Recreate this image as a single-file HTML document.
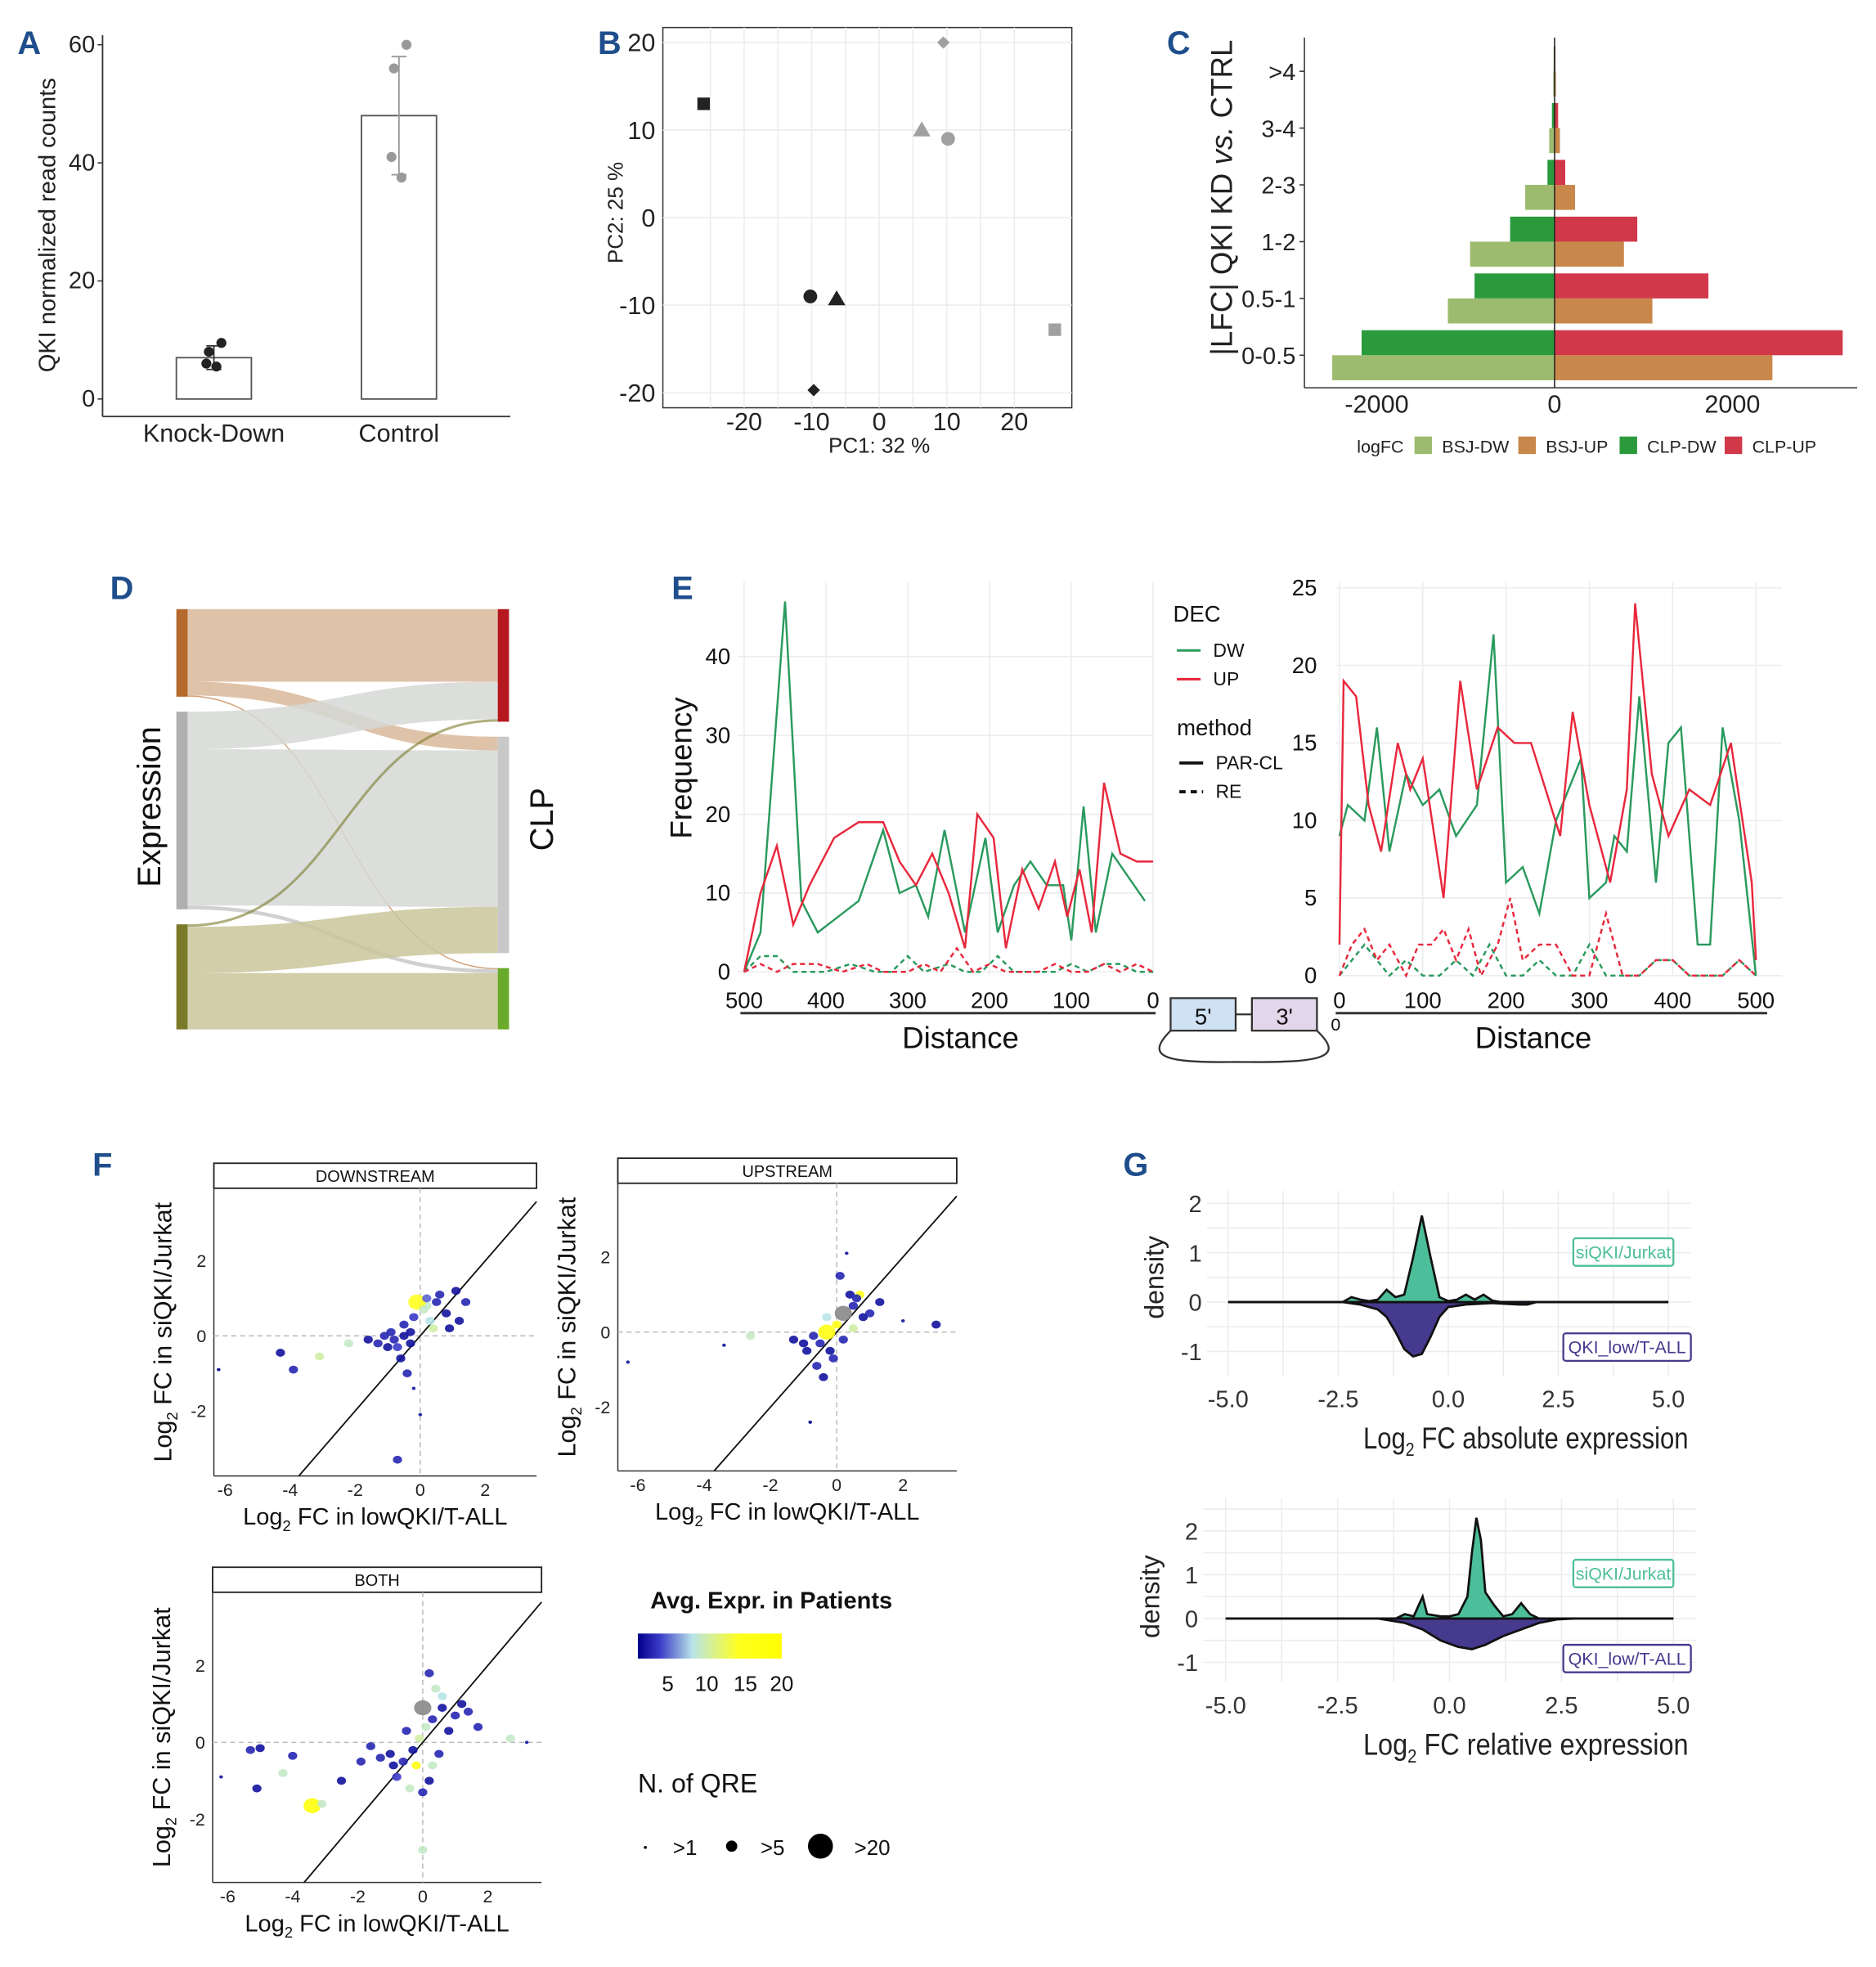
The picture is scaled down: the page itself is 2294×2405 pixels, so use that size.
<!DOCTYPE html>
<html><head><meta charset="utf-8">
<style>
html,body{margin:0;padding:0;background:#fff;}
svg{display:block;font-family:"Liberation Sans",sans-serif;}
.tk{font-size:18px;fill:#222;}
.pl{font-size:26px;font-weight:bold;fill:#1f4e8c;}
.grid{stroke:#ececec;stroke-width:1;}
</style></head>
<body>
<svg id="fig" width="2294" height="2405" viewBox="0 0 1500 1572.6" xmlns="http://www.w3.org/2000/svg">
<text class="pl" x="14" y="43">A</text>
<text class="pl" x="478" y="43">B</text>
<text class="pl" x="933" y="43">C</text>
<text class="pl" x="88" y="479">D</text>
<text class="pl" x="537" y="479">E</text>
<text class="pl" x="74" y="940">F</text>
<text class="pl" x="898" y="940">G</text>

<g id="pA">
<line x1="82" y1="28" x2="82" y2="333" stroke="#333" stroke-width="1.2"/>
<line x1="82" y1="333" x2="408" y2="333" stroke="#333" stroke-width="1.2"/>
<text x="44" y="180" transform="rotate(-90 44 180)" text-anchor="middle" font-size="19" fill="#222">QKI normalized read counts</text>
<text x="171" y="353" text-anchor="middle" font-size="20" fill="#222">Knock-Down</text>
<text x="319" y="353" text-anchor="middle" font-size="20" fill="#222">Control</text>
</g>
<g id="pB">
<rect x="530" y="22" width="327" height="304" fill="#fff" stroke="#333" stroke-width="1"/>
<text x="703" y="362" text-anchor="middle" font-size="17" fill="#222">PC1: 32 %</text>
<text x="498" y="170" transform="rotate(-90 498 170)" text-anchor="middle" font-size="17" fill="#222">PC2: 25 %</text>
</g>
<g id="pC">
<line x1="1043" y1="30" x2="1043" y2="310" stroke="#333"/>
<line x1="1043" y1="310" x2="1485" y2="310" stroke="#333"/>
<text x="985" y="158" transform="rotate(-90 985 158)" text-anchor="middle" font-size="24" fill="#222">|LFC| QKI KD <tspan font-style="italic">vs.</tspan> CTRL</text>
<g font-size="14" fill="#222">
<text x="1085" y="362">logFC</text>
<rect x="1131" y="349" width="14" height="14" fill="#9cbb6e"/><text x="1153" y="362">BSJ-DW</text>
<rect x="1214" y="349" width="14" height="14" fill="#c8874b"/><text x="1236" y="362">BSJ-UP</text>
<rect x="1295" y="349" width="14" height="14" fill="#2b9a3c"/><text x="1317" y="362">CLP-DW</text>
<rect x="1379" y="349" width="14" height="14" fill="#d1394a"/><text x="1401" y="362">CLP-UP</text>
</g>
</g>
<g id="pD">
<text x="128" y="645" transform="rotate(-90 128 645)" text-anchor="middle" font-size="26" fill="#111">Expression</text>
<text x="442" y="655" transform="rotate(-90 442 655)" text-anchor="middle" font-size="26" fill="#111">CLP</text>
</g>
<g id="pE">
<text x="553" y="614" transform="rotate(-90 553 614)" text-anchor="middle" font-size="24" fill="#111">Frequency</text>
<line x1="592" y1="810" x2="924" y2="810" stroke="#333" stroke-width="2"/>
<line x1="1068" y1="810" x2="1413" y2="810" stroke="#333" stroke-width="2"/>
<text x="768" y="838" text-anchor="middle" font-size="24" fill="#111">Distance</text>
<text x="1226" y="838" text-anchor="middle" font-size="24" fill="#111">Distance</text>
<rect x="936" y="798" width="52" height="26" fill="#cfe2f3" stroke="#333" stroke-width="1.5"/>
<text x="962" y="819" text-anchor="middle" font-size="18" fill="#111">5'</text>
<rect x="1001" y="798" width="52" height="26" fill="#e2d6ea" stroke="#333" stroke-width="1.5"/>
<text x="1027" y="819" text-anchor="middle" font-size="18" fill="#111">3'</text>
<line x1="988" y1="811" x2="1001" y2="811" stroke="#333" stroke-width="1.5"/>
<path d="M936 824 C915 845 930 850 990 849 C1060 850 1075 845 1053 824" fill="none" stroke="#333" stroke-width="1.5"/>
<g fill="#111">
<text x="938" y="497" font-size="18">DEC</text>
<line x1="941" y1="520" x2="960" y2="520" stroke="#2a9a5e" stroke-width="2"/><text x="970" y="525" font-size="15">DW</text>
<line x1="941" y1="543" x2="960" y2="543" stroke="#e8283c" stroke-width="2"/><text x="970" y="548" font-size="15">UP</text>
<text x="941" y="588" font-size="18">method</text>
<line x1="943" y1="610" x2="962" y2="610" stroke="#111" stroke-width="2.5"/><text x="972" y="615" font-size="15">PAR-CL</text>
<line x1="943" y1="633" x2="962" y2="633" stroke="#111" stroke-width="2.5" stroke-dasharray="5 4"/><text x="972" y="638" font-size="15">RE</text>
</g>
</g>
<g id="pF">
<g>
<text x="520" y="1286" font-size="19" font-weight="bold" fill="#111">Avg. Expr. in Patients</text>
<defs><linearGradient id="cg" x1="0" x2="1" y1="0" y2="0">
<stop offset="0" stop-color="#00008b"/><stop offset="0.15" stop-color="#3a3ac8"/><stop offset="0.38" stop-color="#b8e4e8"/><stop offset="0.7" stop-color="#ffff20"/><stop offset="1" stop-color="#ffff00"/></linearGradient></defs>
<rect x="510" y="1306" width="115" height="20" fill="url(#cg)"/>
<g font-size="17" fill="#111" text-anchor="middle"><text x="534" y="1352">5</text><text x="565" y="1352">10</text><text x="596" y="1352">15</text><text x="625" y="1352">20</text></g>
<text x="510" y="1433" font-size="21" fill="#111">N. of QRE</text>
<circle cx="516" cy="1477" r="1.2" fill="#000"/><text x="538" y="1483" font-size="17" fill="#111">&gt;1</text>
<circle cx="585" cy="1476" r="4.5" fill="#000"/><text x="608" y="1483" font-size="17" fill="#111">&gt;5</text>
<circle cx="656" cy="1476" r="10" fill="#000"/><text x="683" y="1483" font-size="17" fill="#111">&gt;20</text>
</g>
</g>
<g id="pG"></g>
</svg>
<script>
const NS="http://www.w3.org/2000/svg";
function mk(tag,attrs,parent){const e=document.createElementNS(NS,tag);for(const k in attrs)e.setAttribute(k,attrs[k]);parent.appendChild(e);return e;}
function txt(s,attrs,parent){const e=mk('text',attrs,parent);e.textContent=s;return e;}

const aCats=["Knock-Down","Control"];
const aMeans=[7,48];
const aSd=[2,10];
const aPoints=[[9.5,8,5.5,6],[60,56,37.5,41]];
const aTicks=[0,20,40,60];
(function(){
 const g=document.getElementById('pA');
 const y=v=>319-v*4.72; const xc=[171,319];
 aTicks.forEach(t=>{const l=txt(String(t),{x:76,y:y(t)+6,'text-anchor':'end','font-size':19,fill:'#222'},g);
 
 
 mk('line',{x1:78,x2:82,y1:y(t),y2:y(t),stroke:'#333'},g);});
 aCats.forEach((c,i)=>{
  const b=mk('rect',{x:xc[i]-30,y:y(aMeans[i]),width:60,height:y(0)-y(aMeans[i]),fill:'#fff',stroke:'#555','stroke-width':1.2},g);
  
  
  mk('line',{x1:xc[i],x2:xc[i],y1:y(aMeans[i]+aSd[i]),y2:y(aMeans[i]-aSd[i]),stroke:i?'#999':'#333','stroke-width':1.2},g);
  [aMeans[i]+aSd[i],aMeans[i]-aSd[i]].forEach(v=>mk('line',{x1:xc[i]-6,x2:xc[i]+6,y1:y(v),y2:y(v),stroke:i?'#999':'#333','stroke-width':1.2},g));
  aPoints[i].forEach((v,j)=>{const p=mk('circle',{cx:xc[i]+[6,-4,2,-6][j],cy:y(v),r:4,fill:i?'#999':'#222'},g);
  
  });
 });
})();

const bX=[-26,9.5,6.3,10.2,-10.2,-6.3,-9.7,26];
const bY=[13,20,10,9,-9,-9.3,-19.7,-12.8];
const bShape=["square","diamond","triangle","circle","circle","triangle","diamond","square"];
const bGroup=["kd","ctrl","ctrl","ctrl","kd","kd","kd","ctrl"];
const bXT=[-20,-10,0,10,20];
const bYT=[-20,-10,0,10,20];
(function(){
 const g=document.getElementById('pB');
 const x=v=>703+v*5.4, y=v=>174-v*7;
 bXT.forEach(t=>{mk('line',{class:'grid',x1:x(t),x2:x(t),y1:22,y2:326},g);mk('line',{class:'grid',x1:x(t-5),x2:x(t-5),y1:22,y2:326,'stroke-width':0.5},g);
  const l=txt(String(t),{x:x(t),y:344,'text-anchor':'middle','font-size':20,fill:'#222'},g);
  
  });
 bYT.forEach(t=>{mk('line',{class:'grid',x1:530,x2:857,y1:y(t),y2:y(t)},g);
  const l=txt(String(t),{x:524,y:y(t)+7,'text-anchor':'end','font-size':20,fill:'#222'},g);
  
  });
 bX.forEach((v,i)=>{
  const cx=x(v),cy=y(bY[i]),c=bGroup[i]=='kd'?'#222':'#a0a0a0';let e;
  if(bShape[i]=='square')e=mk('rect',{x:cx-5,y:cy-5,width:10,height:10,fill:c},g);
  else if(bShape[i]=='diamond')e=mk('polygon',{points:`${cx},${cy-5} ${cx+5},${cy} ${cx},${cy+5} ${cx-5},${cy}`,fill:c},g);
  else if(bShape[i]=='triangle')e=mk('polygon',{points:`${cx},${cy-7} ${cx+7},${cy+5} ${cx-7},${cy+5}`,fill:c},g);
  else e=mk('circle',{cx:cx,cy:cy,r:5.5,fill:c},g);
  
  
 });
})();

const cCats=[">4","3-4","2-3","1-2","0.5-1","0-0.5"];
const cClpDw=[-10,-30,-80,-500,-900,-2170];
const cClpUp=[10,40,120,930,1730,3240];
const cBsjDw=[-15,-60,-330,-950,-1200,-2500];
const cBsjUp=[15,60,230,780,1100,2450];
const cXT=[-2000,0,2000];
(function(){
 const g=document.getElementById('pC');
 const x=v=>1243+v*0.0711; const yc=i=>57+i*45.4;
 cCats.forEach((c,i)=>{
  const yy=yc(i);
  const mkb=(v,y0,col,n)=>{const r=mk('rect',{x:Math.min(x(0),x(v)),y:y0,width:Math.abs(x(v)-x(0)),height:20,fill:col},g);
   
   };
  mkb(cClpDw[i],yy-20,'#2b9a3c','bar-clp-dw');mkb(cClpUp[i],yy-20,'#d1394a','bar-clp-up');
  mkb(cBsjDw[i],yy,'#9cbb6e','bar-bsj-dw');mkb(cBsjUp[i],yy,'#c8874b','bar-bsj-up');
  const l=txt(c,{x:1036,y:yy+7,'text-anchor':'end','font-size':19,fill:'#222'},g);
  
  
  mk('line',{x1:1039,x2:1043,y1:yy,y2:yy,stroke:'#333'},g);
 });
 mk('line',{x1:x(0),x2:x(0),y1:30,y2:310,stroke:'#222','stroke-width':1},g);
 cXT.forEach(t=>{const l=txt(String(t),{x:x(t),y:330,'text-anchor':'middle','font-size':20,fill:'#222'},g);
  
  });
})();

const dLeftNodes=["up","stable","down"];
const dRightNodes=["clp-up","clp-stable","clp-down"];
const dLeftColors=["#b5692c","#b0b0b0","#7a7a2a"];
const dRightColors=["#b5181e","#c8c8c8","#6aaa2a"];
const dFlowFrom=[0,0,0,1,1,1,2,2,2];
const dFlowTo=[0,1,2,0,1,2,0,1,2];
const dFlowVal=[58,11,1,30,125,3,2,37,45];
(function(){
 const g=document.getElementById('pD');
 const flowCol=["#d9b89a","#d5d8d5","#c9c59a"];
 const sum=(idx,arr)=>dFlowVal.reduce((s,v,k)=>s+(arr[k]==idx?v:0),0);
 const lTop=[],rTop=[];let yy=487;
 dLeftNodes.forEach((n,i)=>{lTop.push(yy);yy+=sum(i,dFlowFrom)+12;});
 yy=487;dRightNodes.forEach((n,i)=>{rTop.push(yy);yy+=sum(i,dFlowTo)+12;});
 const lOff=lTop.slice(),rOff=rTop.slice();
 const ord=dFlowVal.map((v,k)=>k);
 const ys={};
 ord.forEach(k=>{ys[k]={l:lOff[dFlowFrom[k]]};lOff[dFlowFrom[k]]+=dFlowVal[k];});
 ord.slice().sort((a,b)=>dFlowFrom[a]-dFlowFrom[b]).forEach(k=>{ys[k].r=rOff[dFlowTo[k]];rOff[dFlowTo[k]]+=dFlowVal[k];});
 const x0=150,x1=398,xm=(x0+x1)/2;
 ord.forEach(k=>{
  const v=dFlowVal[k],a=ys[k].l,b=ys[k].r;
  let p;
  if(v<4){p=mk('path',{d:`M${x0} ${a+v/2} C${xm} ${a+v/2} ${xm} ${b+v/2} ${x1} ${b+v/2}`,fill:'none',stroke:dLeftColors[dFlowFrom[k]],'stroke-width':Math.max(v,1),opacity:0.6},g);}
  else p=mk('path',{d:`M${x0} ${a} C${xm} ${a} ${xm} ${b} ${x1} ${b} L${x1} ${b+v} C${xm} ${b+v} ${xm} ${a+v} ${x0} ${a+v} Z`,fill:flowCol[dFlowFrom[k]],opacity:0.85},g);
  
  
 });
 dLeftNodes.forEach((n,i)=>{const r=mk('rect',{x:141,y:lTop[i],width:9,height:sum(i,dFlowFrom),fill:dLeftColors[i]},g);
  
  });
 dRightNodes.forEach((n,i)=>{const r=mk('rect',{x:398,y:rTop[i],width:9,height:sum(i,dFlowTo),fill:dRightColors[i]},g);
  
  });
})();

const eLDwX=[500,480,450,430,410,360,330,310,290,275,255,230,205,190,170,150,130,110,100,85,70,50,30,10];
const eLDwY=[0,5,47,9,5,9,18,10,11,7,18,5,17,5,11,14,11,11,4,21,5,15,12,9];
const eLUpX=[500,480,460,440,420,390,360,330,310,290,270,250,230,215,195,180,160,140,120,105,90,75,60,40,20,0];
const eLUpY=[0,10,16,6,11,17,19,19,14,11,15,10,3,20,17,3,13,8,14,7,13,5,24,15,14,14];
const eLDwReX=[500,480,460,440,400,370,340,320,300,280,250,230,210,190,170,150,120,100,80,60,40,20,0];
const eLDwReY=[0,2,2,0,0,1,0,0,2,0,1,0,0,2,0,0,0,1,0,1,1,0,0];
const eLUpReX=[500,480,460,440,410,380,350,330,300,280,260,240,220,200,180,160,140,120,100,80,60,40,20,0];
const eLUpReY=[0,1,0,1,1,0,1,0,0,1,0,3,0,1,0,0,0,1,0,0,1,0,1,0];
const eRDwX=[0,10,30,45,60,80,100,120,140,165,185,200,220,240,260,290,300,320,330,345,360,380,395,410,430,445,460,480,500];
const eRDwY=[9,11,10,16,8,13,11,12,9,11,22,6,7,4,10,14,5,6,9,8,18,6,15,16,2,2,16,10,0];
const eRUpX=[0,5,20,35,50,70,85,100,125,145,165,190,210,230,265,280,300,325,345,355,375,395,420,445,470,495,500];
const eRUpY=[2,19,18,11,8,15,12,14,5,19,12,16,15,15,9,17,11,6,12,24,13,9,12,11,15,6,1];
const eRDwReX=[0,15,30,45,60,80,100,120,140,160,180,200,220,240,260,280,300,320,340,360,380,400,420,440,460,480,500];
const eRDwReY=[0,1,2,1,0,1,0,0,1,0,2,0,0,1,0,0,2,0,0,0,1,1,0,0,0,1,0];
const eRUpReX=[0,15,30,45,60,80,95,110,125,140,155,170,190,205,220,240,260,280,300,320,340,360,380,400,420,440,460,480,500];
const eRUpReY=[0,2,3,1,2,0,2,2,3,1,3,0,2,5,1,2,2,0,0,4,0,0,1,1,0,0,0,1,0];
const eLYT=[0,10,20,30,40];
const eRYT=[0,5,10,15,20,25];
const eXT=[0,100,200,300,400,500];
(function(){
 const g=document.getElementById('pE');
 const lx=v=>922-v*0.654, ly=v=>777-v*6.3;
 const rx=v=>1071+v*0.666, ry=v=>780-v*12.4;
 eXT.forEach(t=>{mk('line',{class:'grid',x1:lx(t),x2:lx(t),y1:465,y2:780},g);mk('line',{class:'grid',x1:rx(t),x2:rx(t),y1:465,y2:780},g);
  let l=txt(String(t),{x:lx(t),y:806,'text-anchor':'middle','font-size':18,fill:'#111'},g);
  
  
  l=txt(String(t),{x:rx(t),y:806,'text-anchor':'middle','font-size':18,fill:'#111'},g);
  
  });
 eLYT.forEach(t=>{mk('line',{class:'grid',x1:590,x2:922,y1:ly(t),y2:ly(t)},g);
  const l=txt(String(t),{x:584,y:ly(t)+6,'text-anchor':'end','font-size':18,fill:'#111'},g);
  
  });
 eRYT.forEach(t=>{mk('line',{class:'grid',x1:1068,x2:1425,y1:ry(t),y2:ry(t)},g);
  const l=txt(String(t),{x:1053,y:ry(t)+6,'text-anchor':'end','font-size':18,fill:'#111'},g);
  
  });
 txt('0',{x:1068,y:824,'font-size':14,fill:'#111','text-anchor':'middle'},g);
 const line=(X,Y,fx,fy,col,dash,name)=>{const p=mk('polyline',{points:X.map((v,i)=>fx(v)+','+fy(Y[i])).join(' '),fill:'none',stroke:col,'stroke-width':1.6,'stroke-dasharray':dash?'4 3':'none'},g);
  
  };
 line(eLDwReX,eLDwReY,lx,ly,'#2a9a5e',1,'line-left-dw-re');
 line(eLUpReX,eLUpReY,lx,ly,'#e8283c',1,'line-left-up-re');
 line(eLDwX,eLDwY,lx,ly,'#2a9a5e',0,'line-left-dw-parcl');
 line(eLUpX,eLUpY,lx,ly,'#e8283c',0,'line-left-up-parcl');
 line(eRDwReX,eRDwReY,rx,ry,'#2a9a5e',1,'line-right-dw-re');
 line(eRUpReX,eRUpReY,rx,ry,'#e8283c',1,'line-right-up-re');
 line(eRDwX,eRDwY,rx,ry,'#2a9a5e',0,'line-right-dw-parcl');
 line(eRUpX,eRUpY,rx,ry,'#e8283c',0,'line-right-up-parcl');
})();

const fDownX=[-0.5,-0.3,-0.8,-1,-0.2,0.2,0.5,0.8,1.2,1.4,0.3,-0.1,0.1,-0.6,-0.4,-0.2,-1.3,-1.6,-2.2,-3.1,-3.9,-4.3,-6.2,-0.7,0,1.1,0.6,-0.3,-0.9,-1.1,-0.7,0.4,0.9,0.2,-0.5];
const fDownY=[0.3,-0.2,-0.1,-0.3,0.5,0.8,0.9,0.6,0.4,0.9,0.4,0.9,0.7,-0.6,-1,-1.4,-0.2,-0.1,-0.2,-0.55,-0.9,-0.45,-0.9,-3.3,-2.1,1.2,1.1,0.1,0.1,0,-0.3,0.2,0.2,1.0,0.0];
const fDownE=[3,2,3,2,4,9,3,2,2,3,8,14,9,2,3,2,3,2,9,10,3,2,1,3,2,2,3,2,3,3,4,10,2,5,2];
const fDownS=[2,2,2,2,2,2,2,2,2,2,2,3,2,2,2,1,2,2,2,2,2,2,1,2,1,2,2,2,2,2,2,2,2,2,2];
const fUpX=[0.2,-0.3,0.5,0.7,0.4,0.8,1.0,1.3,-0.5,-0.2,-0.6,-0.4,-0.1,-1.0,-1.3,-2.6,-3.4,-6.3,0.3,0.1,2.0,3.0,-0.8,0.6,-0.3,0.0,0.2,-0.9,0.5,-0.7];
const fUpY=[0.5,0,0.7,1.0,1.0,0.4,0.5,0.8,-0.3,-0.5,-0.9,-1.2,-0.7,-0.3,-0.2,-0.1,-0.35,-0.8,2.1,1.5,0.3,0.2,-2.4,0.9,0.4,0.2,-0.2,-0.5,0.1,-0.1];
const fUpE=[7,16,3,15,2,2,3,2,3,2,3,2,3,2,2,9,2,2,2,3,2,2,1,3,8,16,3,2,10,3];
const fUpS=[3,3,2,2,2,2,2,2,2,2,2,2,2,2,2,2,1,1,1,2,1,2,1,2,2,2,2,2,2,2];
const fBothX=[0,0.1,0.3,0.6,1.0,1.2,0.4,0.2,-0.3,-0.6,-1.0,-1.3,-0.8,-0.4,0.2,0,-0.2,-1.6,-2.5,-3.4,-3.1,-4.3,-5.1,-5.3,-6.2,-4,-5,0,2.7,3.2,1.7,0.8,-0.1,0.5,0.3,-0.5,-0.9,0.6,1.4,-1.9];
const fBothY=[0.9,0.4,0.6,0.9,0.7,1,1.4,1.8,-0.2,-0.5,-0.3,-0.4,-0.9,-1.2,-1,-1.3,-0.6,-0.1,-1,-1.65,-1.6,-0.8,-1.2,-0.2,-0.9,-0.35,-0.15,-2.8,0.1,0,0.4,0.3,0.1,-0.3,-0.6,0.3,-0.6,1.2,0.8,-0.5];
const fBothE=[7,9,3,2,3,2,9,3,2,3,2,3,4,9,2,3,16,3,2,18,9,9,2,3,2,3,2,9,9,2,3,2,10,3,9,3,2,8,3,3];
const fBothS=[3,2,2,2,2,2,2,2,2,2,2,2,2,2,2,2,2,2,2,3,2,2,2,2,1,2,2,2,2,1,2,2,2,2,2,2,2,2,2,2];
const fXT=[-6,-4,-2,0,2];
const fYT=[-2,0,2];
function exprColor(v){
 const stops=[[1,[0,0,139]],[4,[58,58,200]],[8,[184,228,232]],[14,[255,255,32]],[20,[255,255,0]]];
 for(let i=1;i<stops.length;i++){if(v<=stops[i][0]){const a=stops[i-1],b=stops[i],t=(v-a[0])/(b[0]-a[0]);
  return 'rgb('+a[1].map((c,k)=>Math.round(c+(b[1][k]-c)*t)).join(',')+')';}}
 return 'rgb(255,255,0)';
}
function scatter(title,X,Y,E,S,px0,px1,py0,py1,x0,xu,y0,yu,tag){
 const g=document.getElementById('pF');
 const x=v=>x0+v*xu, y=v=>y0-v*yu;
 const s=mk('rect',{x:px0,y:py0-20,width:px1-px0,height:20,fill:'#fff',stroke:'#222','stroke-width':1.2},g);
 
 
 txt(title,{x:(px0+px1)/2,y:py0-5,'text-anchor':'middle','font-size':13,fill:'#111'},g);
 mk('line',{x1:px0,x2:px0,y1:py0,y2:py1,stroke:'#333'},g);
 mk('line',{x1:px0,x2:px1,y1:py1,y2:py1,stroke:'#333'},g);
 mk('line',{x1:px0,x2:px1,y1:y(0),y2:y(0),stroke:'#bbb','stroke-dasharray':'4 3'},g);
 mk('line',{x1:x(0),x2:x(0),y1:py0,y2:py1,stroke:'#bbb','stroke-dasharray':'4 3'},g);
 fXT.forEach(t=>{const l=txt(String(t),{x:x(t),y:py1+16,'text-anchor':'middle','font-size':14,fill:'#222'},g);
  
  });
 fYT.forEach(t=>{const l=txt(String(t),{x:px0-6,y:y(t)+5,'text-anchor':'end','font-size':14,fill:'#222'},g);
  
  });
 const ya=(py0+py1)/2;
 const t1=txt('',{x:px0-34,y:ya,transform:`rotate(-90 ${px0-34} ${ya})`,'text-anchor':'middle','font-size':20,fill:'#111'},g);
 t1.innerHTML='Log<tspan font-size="12" dy="5">2</tspan><tspan dy="-5"> FC in siQKI/Jurkat</tspan>';
 
 
 const t2=txt('',{x:(px0+px1)/2,y:py1+39,'text-anchor':'middle','font-size':19,fill:'#111'},g);
 t2.innerHTML='Log<tspan font-size="12" dy="5">2</tspan><tspan dy="-5"> FC in lowQKI/T-ALL</tspan>';
 
 
 const a0=Math.max(-(py1-y0)/yu,(px0-x0)/xu), a1=Math.min((y0-py0)/yu,(px1-x0)/xu);
 mk('line',{x1:x(a0),y1:y(a0),x2:x(a1),y2:y(a1),stroke:'#111','stroke-width':1.2},g);
 const rr=[0,1.3,3.2,6];
 X.forEach((v,i)=>{const c=mk('ellipse',{cx:x(v),cy:y(Y[i]),rx:rr[S[i]]*1.15,ry:rr[S[i]],fill:S[i]==3&&E[i]<8?'#888':exprColor(E[i]),opacity:0.9},g);
  
  });
}
scatter('DOWNSTREAM',fDownX,fDownY,fDownE,fDownS,171,429,950,1180,336,26,1068,30,'downstream');
scatter('UPSTREAM',fUpX,fUpY,fUpE,fUpS,494,765,946,1176,669,26.5,1065,30,'upstream');
scatter('BOTH',fBothX,fBothY,fBothE,fBothS,170,433,1273,1505,338,26,1393,30.7,'both');

const gAbsGreenX=[-5,-2.4,-2.2,-2.0,-1.8,-1.6,-1.4,-1.2,-1.0,-0.8,-0.6,-0.4,-0.2,0,0.2,0.4,0.6,0.8,1.0,1.2,5];
const gAbsGreenY=[0,0,0.1,0.05,0.02,0.05,0.25,0.1,0.15,0.9,1.75,0.9,0.1,0.02,0.05,0.15,0.05,0.15,0.03,0,0];
const gAbsPurpleX=[-5,-2.4,-2.0,-1.6,-1.4,-1.2,-1.0,-0.8,-0.6,-0.4,-0.2,0,0.4,1.0,1.6,1.8,2.0,5];
const gAbsPurpleY=[0,0,-0.05,-0.15,-0.3,-0.6,-0.95,-1.1,-1.05,-0.7,-0.3,-0.1,-0.05,-0.02,-0.05,-0.05,0,0];
const gRelGreenX=[-5,-1.2,-1.0,-0.8,-0.6,-0.5,-0.2,0,0.2,0.4,0.5,0.6,0.7,0.8,1.0,1.2,1.4,1.6,1.8,2.0,5];
const gRelGreenY=[0,0,0.1,0.05,0.5,0.1,0.05,0.05,0.1,0.5,1.5,2.3,1.8,0.6,0.3,0.05,0.1,0.35,0.1,0,0];
const gRelPurpleX=[-5,-1.6,-1.0,-0.6,-0.2,0.2,0.5,0.8,1.2,1.6,2.0,2.4,2.8,5];
const gRelPurpleY=[0,0,-0.1,-0.25,-0.5,-0.65,-0.7,-0.6,-0.4,-0.25,-0.1,-0.02,0,0];
const gXT=[-5,-2.5,0,2.5,5];
const gXTL=["-5.0","-2.5","0.0","2.5","5.0"];
const gYT=[-1,0,1,2];
function density(GX,GY,PX,PY,px0,px1,py0,py1,x0,xu,y0,yu,title,tag,lab1,lab2,l1y,l2y){
 const g=document.getElementById('pG');
 const x=v=>x0+v*xu,y=v=>y0-v*yu;
 for(let v=-5;v<=5;v+=1.25)mk('line',{class:'grid',x1:x(v),x2:x(v),y1:py0,y2:py1},g);
 for(let v=-1.5;v<=2.5;v+=0.5)if(y(v)>py0&&y(v)<py1)mk('line',{class:'grid',x1:px0,x2:px1,y1:y(v),y2:y(v)},g);
 gXT.forEach((t,i)=>{const l=txt(gXTL[i],{x:x(t),y:py1+25,'text-anchor':'middle','font-size':19,fill:'#333'},g);
  
  });
 gYT.forEach(t=>{const l=txt(String(t),{x:px0-4,y:y(t)+7,'text-anchor':'end','font-size':19,fill:'#333'},g);
  
  });
 const ya=(y(2)+y(-1))/2;
 const yt=txt('density',{x:px0-35,y:ya,transform:`rotate(-90 ${px0-35} ${ya})`,'text-anchor':'middle','font-size':21,fill:'#222'},g);
 
 
 const path=(X,Y,col,name)=>{const d='M'+X.map((v,i)=>x(v)+' '+y(Y[i])).join(' L')+' Z';
  const p=mk('path',{d:d,fill:col,stroke:'#111','stroke-width':1.8},g);
  
  };
 path(PX,PY,'#463a8e','density-qki-low-'+tag);
 path(GX,GY,'#4cbf9a','density-siqki-'+tag);
 const b1=mk('rect',{x:1258,y:l1y-17,width:80,height:22,fill:'#fff',stroke:'#4cbf9a','stroke-width':1.5,rx:2},g);
 
 
 txt(lab1,{x:1298,y:l1y-1,'text-anchor':'middle','font-size':14,fill:'#4cbf9a'},g);
 const b2=mk('rect',{x:1250,y:l2y-17,width:102,height:22,fill:'#fff',stroke:'#463a8e','stroke-width':1.5,rx:2},g);
 
 
 txt(lab2,{x:1301,y:l2y-1,'text-anchor':'middle','font-size':14,fill:'#463a8e'},g);
 const xt=txt('',{x:1090,y:py1+58,'font-size':24,fill:'#222',textLength:260,lengthAdjust:'spacingAndGlyphs'},g);
 xt.innerHTML='Log<tspan font-size="15" dy="6">2</tspan><tspan dy="-6"> FC '+title+'</tspan>';
 
 
}
density(gAbsGreenX,gAbsGreenY,gAbsPurpleX,gAbsPurpleY,965,1352,952,1100,1158,35.2,1041,39.5,'absolute expression','abs','siQKI/Jurkat','QKI_low/T-ALL',1007,1083);
density(gRelGreenX,gRelGreenY,gRelPurpleX,gRelPurpleY,962,1356,1198,1345,1159,35.8,1294,35,'relative expression','rel','siQKI/Jurkat','QKI_low/T-ALL',1264,1332);
</script>
</body></html>
